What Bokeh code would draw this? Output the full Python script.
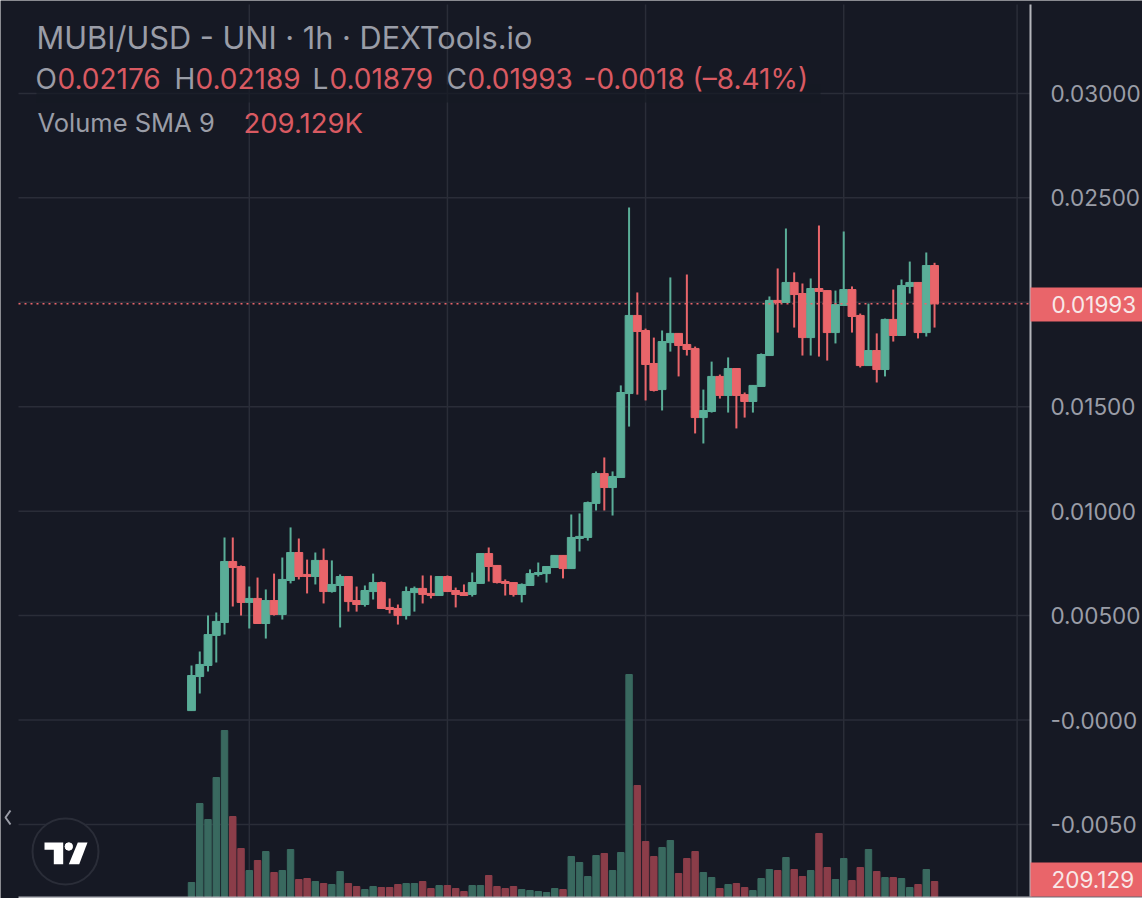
from bokeh.embed import file_html
from bokeh.models import BoxAnnotation, FixedTicker, Label, PolyAnnotation, Range1d
from bokeh.plotting import figure
from bokeh.resources import INLINE

opens = [
    0.00045, 0.00208, 0.00261, 0.00405, 0.00467, 0.00759, 0.00735, 0.00563, 0.00582, 0.00462,
    0.00572, 0.00505, 0.00668, 0.00802, 0.00697, 0.00687, 0.00764, 0.00615, 0.00644, 0.00687,
    0.00572, 0.00553, 0.00615, 0.00658, 0.00539, 0.00534, 0.00500, 0.00610, 0.00630, 0.00606,
    0.00596, 0.00687, 0.00620, 0.00610, 0.00601, 0.00654, 0.00797, 0.00740, 0.00663, 0.00658,
    0.00601, 0.00644, 0.00697, 0.00701, 0.00730, 0.00788, 0.00725, 0.00869, 0.00874, 0.01037,
    0.01180, 0.01113, 0.01161, 0.01563, 0.01937, 0.01865, 0.01707, 0.01582, 0.01807, 0.01851,
    0.01798, 0.01779, 0.01448, 0.01477, 0.01645, 0.01554, 0.01683, 0.01558, 0.01525, 0.01597,
    0.01745, 0.02009, 0.01999, 0.02095, 0.02042, 0.01831, 0.02066, 0.02056, 0.01855, 0.01985,
    0.02061, 0.01937, 0.01697, 0.01769, 0.01678, 0.01918, 0.01841, 0.02076, 0.02095, 0.01855,
    0.02176,
]
highs = [
    0.00261, 0.00328, 0.00500, 0.00515, 0.00874, 0.00874, 0.00740, 0.00639, 0.00682, 0.00625,
    0.00701, 0.00778, 0.00922, 0.00869, 0.00768, 0.00802, 0.00821, 0.00764, 0.00697, 0.00687,
    0.00639, 0.00644, 0.00701, 0.00663, 0.00582, 0.00553, 0.00639, 0.00639, 0.00692, 0.00692,
    0.00687, 0.00692, 0.00634, 0.00649, 0.00706, 0.00797, 0.00826, 0.00740, 0.00673, 0.00658,
    0.00654, 0.00721, 0.00754, 0.00735, 0.00788, 0.00788, 0.00984, 0.00989, 0.01046, 0.01190,
    0.01257, 0.01190, 0.01602, 0.02454, 0.02047, 0.01874, 0.01831, 0.01865, 0.02119, 0.01851,
    0.02133, 0.01788, 0.01582, 0.01716, 0.01654, 0.01736, 0.01683, 0.01568, 0.01602, 0.01755,
    0.02028, 0.02162, 0.02353, 0.02143, 0.02090, 0.02114, 0.02368, 0.02056, 0.02056, 0.02339,
    0.02076, 0.01946, 0.01994, 0.01851, 0.01922, 0.02061, 0.02109, 0.02195, 0.02095, 0.02238,
    0.02189,
]
lows = [
    0.00045, 0.00127, 0.00232, 0.00275, 0.00409, 0.00543, 0.00500, 0.00438, 0.00462, 0.00390,
    0.00500, 0.00481, 0.00654, 0.00673, 0.00606, 0.00649, 0.00558, 0.00610, 0.00443, 0.00519,
    0.00519, 0.00543, 0.00577, 0.00534, 0.00510, 0.00457, 0.00481, 0.00519, 0.00558, 0.00582,
    0.00596, 0.00615, 0.00539, 0.00596, 0.00591, 0.00654, 0.00663, 0.00654, 0.00596, 0.00591,
    0.00563, 0.00644, 0.00687, 0.00658, 0.00730, 0.00678, 0.00725, 0.00807, 0.00859, 0.01003,
    0.01003, 0.00979, 0.01161, 0.01405, 0.01558, 0.01530, 0.01573, 0.01482, 0.01764, 0.01645,
    0.01745, 0.01372, 0.01324, 0.01472, 0.01539, 0.01472, 0.01396, 0.01448, 0.01472, 0.01597,
    0.01745, 0.01855, 0.01999, 0.01879, 0.01745, 0.01745, 0.01740, 0.01721, 0.01803, 0.01985,
    0.01855, 0.01688, 0.01697, 0.01616, 0.01645, 0.01812, 0.01841, 0.02042, 0.01827, 0.01836,
    0.01879,
]
closes = [
    0.00213, 0.00266, 0.00409, 0.00472, 0.00759, 0.00730, 0.00563, 0.00582, 0.00462, 0.00572,
    0.00505, 0.00673, 0.00802, 0.00687, 0.00687, 0.00764, 0.00615, 0.00649, 0.00687, 0.00567,
    0.00553, 0.00620, 0.00658, 0.00534, 0.00529, 0.00500, 0.00615, 0.00630, 0.00601, 0.00596,
    0.00687, 0.00615, 0.00601, 0.00596, 0.00658, 0.00797, 0.00735, 0.00658, 0.00654, 0.00601,
    0.00649, 0.00701, 0.00706, 0.00735, 0.00788, 0.00725, 0.00874, 0.00879, 0.01041, 0.01180,
    0.01113, 0.01166, 0.01568, 0.01937, 0.01860, 0.01702, 0.01578, 0.01812, 0.01851, 0.01793,
    0.01774, 0.01448, 0.01482, 0.01645, 0.01554, 0.01683, 0.01554, 0.01525, 0.01602, 0.01750,
    0.02009, 0.01999, 0.02095, 0.02037, 0.01831, 0.02066, 0.02052, 0.01855, 0.01989, 0.02061,
    0.01932, 0.01697, 0.01769, 0.01678, 0.01918, 0.01841, 0.02080, 0.02095, 0.01855, 0.02176,
    0.01993,
]
volumes_k = [
    182, 1209, 1001, 1547, 2158, 1040, 624, 338, 468, 585,
    312, 338, 611, 221, 234, 195, 169, 156, 325, 169,
    130, 91, 130, 117, 117, 156, 169, 169, 195, 104,
    143, 143, 104, 65, 143, 143, 273, 130, 104, 130,
    91, 78, 65, 52, 104, 91, 520, 442, 260, 533,
    559, 338, 572, 2886, 1443, 715, 520, 637, 728, 299,
    494, 585, 312, 247, 104, 156, 169, 117, 78, 234,
    351, 338, 507, 351, 260, 338, 819, 377, 221, 494,
    208, 377, 611, 325, 247, 247, 234, 117, 156, 351,
    195,
]
price_ticks = [-0.005, 0.0, 0.005, 0.01, 0.015, 0.02, 0.025, 0.03]
price_labels = ["-0.0050", "-0.0000", "0.00500", "0.01000", "0.01500", "0.02000", "0.02500", "0.03000"]
time_gridlines = [7, 31, 55, 79, 100]
last_close = 0.01993
last_close_label = "0.01993"
volume_sma_label = "209.129"

BG = "#161924"
GRID = "#2a2d38"
GREEN = "#5aae98"
RED = "#e9656a"
VOL_GREEN = "#39695f"
VOL_RED = "#8b3d49"
TEXT = "#9a9da7"
TEXT_RED = "#d95a62"
AXIS = "#b4b6bb"
FONT = "Inter"


# the reference picture's pixels, for placing the overlays that sit on the chart
def px(x):
    return (x - 191) / 8.256


def py(y):
    return (719.5 - y) * 4.788e-5


index = list(range(len(opens)))
body_colors = [RED if c < o else GREEN for o, c in zip(opens, closes)]
volume_colors = [VOL_RED if c < o else VOL_GREEN for o, c in zip(opens, closes)]

# the frame fills the page, the price scale is pinned inside it
p = figure(
    width=1142, height=898,
    x_range=Range1d(px(0), px(1142)), y_range=Range1d(py(898), py(0)),
    y_axis_location="right", min_border=0,
    background_fill_color=BG, border_fill_color=BG, outline_line_color=None,
    toolbar_location=None, output_backend="svg",
)
p.extra_y_ranges["volume"] = Range1d(-26, 11648)

p.xaxis.visible = False
p.grid.visible = False

yaxis = p.yaxis[0]
yaxis.fixed_location = px(1030)
yaxis.bounds = (py(896), py(4))
yaxis.ticker = FixedTicker(ticks=price_ticks)
yaxis.major_label_overrides = dict(zip(price_ticks, price_labels))
yaxis.major_label_text_font = FONT
yaxis.major_label_text_font_size = "22.5px"
yaxis.major_label_text_color = TEXT
yaxis.major_label_standoff = 14
yaxis.major_tick_line_color = None
yaxis.minor_tick_line_color = None
yaxis.axis_line_color = AXIS
yaxis.axis_line_width = 2

# gridlines stop at the price scale
p.segment([px(18)] * len(price_ticks), price_ticks, [px(1030)] * len(price_ticks), price_ticks,
          color=GRID, line_width=1.5)
p.segment(time_gridlines, [py(4)] * len(time_gridlines), time_gridlines, [py(896)] * len(time_gridlines),
          color=GRID, line_width=1.5)

p.vbar(index, width=0.78, top=volumes_k, bottom=0, color=volume_colors, y_range_name="volume")
p.segment(index, highs, index, lows, color=body_colors, line_width=2)
p.vbar(index, width=0.95, top=opens, bottom=closes, color=body_colors)

p.line([px(18), px(1030)], [last_close, last_close], color=RED, line_width=1.5, line_dash=[2, 4])

# legend sits on a faint backing that hides the top gridline
p.add_layout(BoxAnnotation(left=px(36), right=px(820), top=py(84), bottom=py(102),
                           fill_color=BG, fill_alpha=0.7, line_color=None))


def add_text(text, x, y, size, color=TEXT, **kw):
    p.add_layout(Label(x=px(x), y=py(y), text=text, text_font=FONT, text_font_size=size,
                       text_color=color, text_baseline="alphabetic", **kw))


add_text("MUBI/USD - UNI · 1h · DEXTools.io", 36, 37, "30.7px")
for text, x, color in [("O", 35, TEXT), ("0.02176", 57, TEXT_RED), ("H", 174, TEXT),
                       ("0.02189", 195, TEXT_RED), ("L", 312, TEXT), ("0.01879", 329, TEXT_RED),
                       ("C", 446, TEXT), ("0.01993", 467, TEXT_RED),
                       ("-0.0018 (–8.41%)", 583, TEXT_RED)]:
    add_text(text, x, 78, "28px", color)
add_text("Volume SMA 9", 37, 122, "25.5px")
add_text("209.129K", 243, 122, "27.5px", TEXT_RED)

# price scale tags and the bottom edge of the chart
p.add_layout(BoxAnnotation(left=px(18), right=px(1142), top=py(896), bottom=py(898),
                           fill_color=AXIS, fill_alpha=1, line_color=None))
p.add_layout(BoxAnnotation(left=px(1030), right=px(1142), top=py(287), bottom=py(321),
                           fill_color=RED, fill_alpha=1, line_color=None))
p.add_layout(BoxAnnotation(left=px(1030), right=px(1142), top=py(862), bottom=py(896),
                           fill_color=RED, fill_alpha=1, line_color=None))
add_text(last_close_label, 1051, 304, "22.5px", "#f8e8e8")
add_text(volume_sma_label, 1051, 879, "22.5px", "#f8e8e8")

# collapse arrow and TradingView badge
p.line([px(10), px(5), px(10)], [py(810), py(817), py(824)], color=TEXT, line_width=2)
p.scatter([px(65)], [py(851)], size=66, marker="circle", fill_color=BG, line_color=GRID, line_width=2)
p.add_layout(PolyAnnotation(
    xs=[px(v) for v in (44, 62.7, 62.7, 53.3, 53.3, 44)],
    ys=[py(v) for v in (842, 842, 863.7, 863.7, 849.3, 849.3)],
    fill_color="#ffffff", fill_alpha=1, line_color=None))
p.add_layout(PolyAnnotation(
    xs=[px(v) for v in (77.3, 87, 78.7, 68.3)],
    ys=[py(v) for v in (842, 842, 863.7, 863.7)],
    fill_color="#ffffff", fill_alpha=1, line_color=None))
p.scatter([px(68.3)], [py(846)], size=7.5, marker="circle", color="#ffffff")

open("out.html", "w").write(file_html(p, INLINE))
